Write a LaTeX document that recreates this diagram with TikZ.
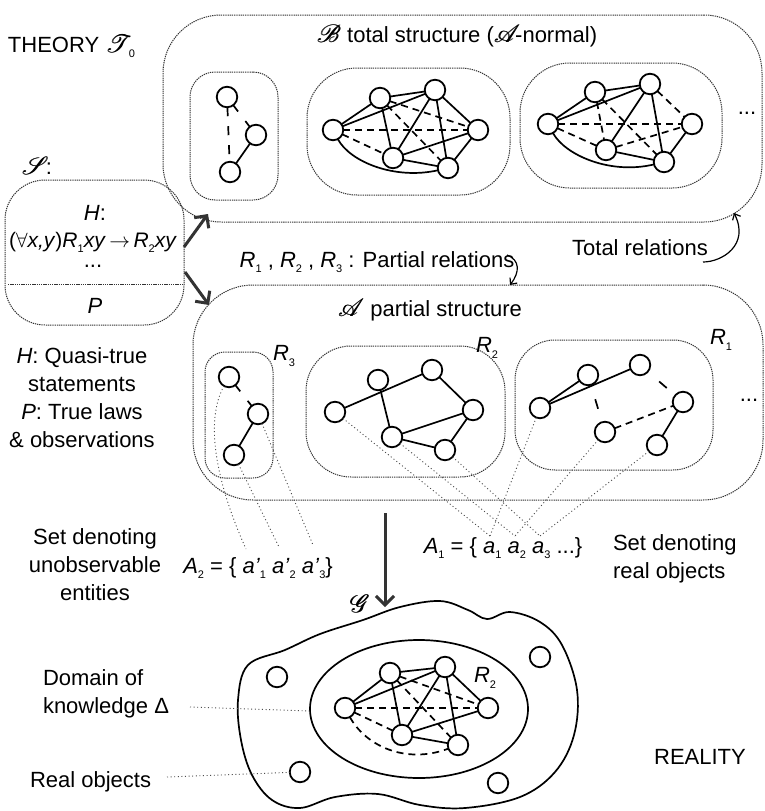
\documentclass[tikz,border=0pt]{standalone}
\usepackage{fontspec}
\setmainfont{Liberation Sans}
\usepackage{mathrsfs}
\usetikzlibrary{arrows.meta}
\newcommand\fs{\fontsize{22}{28}\selectfont}
\newcommand\sbs[1]{\raisebox{-0.45ex}{\fontsize{11}{11}\selectfont #1}}
\newcommand\scr[1]{{\fontsize{25}{28}\selectfont\rlap{$\mathscr{#1}$}\kern0.6pt$\mathscr{#1}$}}
\begin{document}
\begin{tikzpicture}[x=1pt,y=-1pt,
 every node/.style={font=\fs,inner sep=0pt,outer sep=0pt},
 vert/.style={circle,draw,line width=1.8pt,minimum size=20.5},
 sedge/.style={line width=1.7pt},
 dedge/.style={line width=1.7pt,dash pattern=on 7pt off 5pt},
 gedge/.style={line width=1.7pt,dash pattern=on 8pt off 12pt},
 mdash/.style={line width=1.7pt,dash pattern=on 0pt off 15pt on 10pt off 60pt},
 vdash/.style={line width=1.7pt,dash pattern=on 9pt off 10pt},
 dotbox/.style={draw=black!80,line width=1pt,dash pattern=on 1.3pt off 0.9pt},
 fdot/.style={draw=black!70,line width=0.9pt,dash pattern=on 1pt off 2.6pt},
 bigarrow/.style={draw=black!80,line width=3pt,-{Straight Barb[length=9pt,width=18pt]}},
 curly/.style={line width=1.2pt,-{Straight Barb[length=5pt,width=9pt]}},
 ]
\useasboundingbox (0,0) rectangle (764,811);
\fill[white] (0,0) rectangle (764,811);

% ---------- boxes ----------
\node[dotbox,rounded corners=58,minimum width=599,minimum height=207] (Bbox) at (462.5,118.5) {};
\node[dotbox,rounded corners=25,minimum width=88,minimum height=128] (tb1) at (234,136) {};
\node[dotbox,rounded corners=50,minimum width=203,minimum height=127] (tb2) at (408.5,131.5) {};
\node[dotbox,rounded corners=50,minimum width=202,minimum height=125] (tb3) at (621,125.5) {};

\node[dotbox,rounded corners=40,minimum width=179,minimum height=145] (Sbox) at (94.5,252.5) {};
\coordinate (sl1) at (8,284);
\coordinate (sl2) at (184,284);
\draw[dotbox] (sl1) -- (sl2);

\node[dotbox,rounded corners=60,minimum width=570,minimum height=215] (Abox) at (478,392.5) {};
\node[dotbox,rounded corners=20,minimum width=68,minimum height=126] (pb3) at (239,415) {};
\node[dotbox,rounded corners=45,minimum width=199,minimum height=131] (pb2) at (405.5,411.5) {};
\node[dotbox,rounded corners=40,minimum width=198,minimum height=130] (pb1) at (614,405) {};

% ---------- texts ----------
\node[anchor=west] (theory) at (8,46) {THEORY \scr{T}\kern-3pt\sbs{0}};
\node (btitle) at (457,36) {\scr{B} total structure (\scr{A}\kern-5pt-normal)};
\node (stitle) at (37,166) {\scr{S}\kern-3pt:};
\node (sH) at (95,213) {\textit{H}:};
\node[font=\fontsize{21}{26}\selectfont] (sform) at (93,242) {($\forall$\textit{x,y})\textit{R}\sbs{1}\textit{xy}\,$\rightarrow$\,\textit{R}\sbs{2}\textit{xy}};
\node (sdots) at (93,266) {...};
\node (sP) at (95,306) {\textit{P}};
\node[align=center] (hp) at (82,398) {\textit{H}: Quasi-true\\statements\\\textit{P}: True laws\\\& observations};
\node (trel) at (640,248) {Total relations};
\node (prel) at (377,262) {\textit{R}\sbs{1} , \textit{R}\sbs{2} , \textit{R}\sbs{3} : Partial relations};
\node (atitle) at (430,310) {\scr{A} partial structure};
\node (lr3) at (284,356) {\textit{R}\sbs{3}};
\node (lr2) at (487,348) {\textit{R}\sbs{2}};
\node (lr1) at (721,340) {\textit{R}\sbs{1}};
\node (tdots) at (747,113) {...};
\node (pdots) at (749,400) {...};
\node[align=center] (unobs) at (95,565) {Set denoting\\unobservable\\entities};
\node (A2) at (258,568) {\textit{A}\sbs{2} = \{ \textit{a'}\sbs{1} \textit{a'}\sbs{2} \textit{a'}\sbs{3}\}};
\node (A1) at (503,548) {\textit{A}\sbs{1} = \{ \textit{a}\sbs{1} \textit{a}\sbs{2} \textit{a}\sbs{3} ...\}};
\node[align=left,anchor=west] (realobj) at (613,559) {Set denoting\\real objects};
\node (glab) at (360,604) {\scr{G}};
\node[align=left,anchor=west] (dom) at (43,694) {Domain of\\knowledge Δ};
\node[anchor=west] (robj) at (30,782) {Real objects};
\node (reality) at (700,757) {REALITY};
\node (rr2) at (485,678) {\textit{R}\sbs{2}};

% ---------- arrows ----------
\coordinate (ua1) at (184,247); \coordinate (ua2) at (208,214);
\coordinate (dn1) at (185,272); \coordinate (dn2) at (209,305);
\draw[bigarrow] (ua1) -- (ua2);
\draw[bigarrow] (dn1) -- (dn2);
\coordinate (da1) at (385,513); \coordinate (da2) at (385,607);
\draw[bigarrow] (da1) -- (da2);
\coordinate (pc1) at (507,255); \coordinate (pc2) at (510,285);
\draw[curly] (pc1) .. controls (520,260) and (520,272) .. (pc2);
\coordinate (tc1) at (703,262); \coordinate (tc2) at (734,213);
\draw[curly] (tc1) .. controls (722,262) and (750,245) .. (tc2);

% ---------- top box 1 ----------
\node[vert] (t1a) at (227,97) {};
\node[vert] (t1b) at (256,135) {};
\node[vert] (t1c) at (230,172) {};
\draw[gedge] (t1a) -- (t1b);
\draw[vdash] (t1a) -- (t1c);
\draw[sedge] (t1b) -- (t1c);

% ---------- top box 2 ----------
\node[vert] (t2a) at (333,130) {};
\node[vert] (t2b) at (380,98) {};
\node[vert] (t2c) at (435,90) {};
\node[vert] (t2d) at (478,130) {};
\node[vert] (t2e) at (393,158) {};
\node[vert] (t2f) at (448,168) {};
\draw[sedge] (t2a) -- (t2b);
\draw[sedge] (t2b) -- (t2c);
\draw[sedge] (t2a) -- (t2c);
\draw[sedge] (t2b) -- (t2e);
\draw[sedge] (t2c) -- (t2e);
\draw[sedge] (t2c) -- (t2f);
\draw[sedge] (t2c) -- (t2d);
\draw[sedge] (t2e) -- (t2d);
\draw[sedge] (t2e) -- (t2f);
\draw[sedge] (t2d) -- (t2f);
\draw[sedge] (t2a) .. controls (350,162) and (395,180) .. (t2f);
\draw[dedge] (t2a) -- (t2d);
\draw[dedge] (t2a) -- (t2e);
\draw[dedge] (t2b) -- (t2d);
\draw[dedge] (t2b) -- (t2f);

% ---------- top box 3 ----------
\node[vert] (t3a) at (548,124) {};
\node[vert] (t3b) at (595,92) {};
\node[vert] (t3c) at (650,84) {};
\node[vert] (t3d) at (692,124) {};
\node[vert] (t3e) at (606,150) {};
\node[vert] (t3f) at (664,162) {};
\draw[sedge] (t3a) -- (t3b);
\draw[sedge] (t3b) -- (t3c);
\draw[sedge] (t3a) -- (t3c);
\draw[sedge] (t3c) -- (t3e);
\draw[sedge] (t3c) -- (t3f);
\draw[sedge] (t3e) -- (t3f);
\draw[sedge] (t3d) -- (t3f);
\draw[sedge] (t3a) .. controls (565,155) and (610,175) .. (t3f);
\draw[dedge] (t3a) -- (t3d);
\draw[dedge] (t3a) -- (t3e);
\draw[dedge] (t3e) -- (t3d);
\draw[dedge] (t3c) -- (t3d);
\draw[dedge] (t3b) -- (t3e);
\draw[dedge] (t3b) -- (t3f);

% ---------- partial R3 ----------
\node[vert] (p3a) at (229,377) {};
\node[vert] (p3b) at (258,414) {};
\node[vert] (p3c) at (234,455) {};
\draw[gedge] (p3a) -- (p3b);
\draw[sedge] (p3b) -- (p3c);

% ---------- partial R2 ----------
\node[vert] (p2a) at (335,412) {};
\node[vert] (p2b) at (378,380) {};
\node[vert] (p2c) at (432,370) {};
\node[vert] (p2d) at (473,410) {};
\node[vert] (p2e) at (392,437) {};
\node[vert] (p2f) at (445,450) {};
\draw[sedge] (p2a) -- (p2c);
\draw[sedge] (p2b) -- (p2e);
\draw[sedge] (p2c) -- (p2d);
\draw[sedge] (p2e) -- (p2d);
\draw[sedge] (p2e) -- (p2f);
\draw[sedge] (p2f) -- (p2d);

% ---------- partial R1 ----------
\node[vert] (p1a) at (540,408) {};
\node[vert] (p1b) at (588,375) {};
\node[vert] (p1c) at (640,365) {};
\node[vert] (p1d) at (683,402) {};
\node[vert] (p1e) at (605,432) {};
\node[vert] (p1f) at (657,445) {};
\draw[sedge] (p1a) -- (p1b);
\draw[sedge] (p1a) -- (p1c);
\draw[sedge] (p1d) -- (p1f);
\draw[mdash] (p1b) -- (p1e);
\draw[mdash] (p1c) -- (p1d);
\draw[dedge] (p1e) -- (p1d);

% ---------- dotted denotation lines ----------
\coordinate (ap1) at (246,549); \coordinate (ap2) at (279,547); \coordinate (ap3) at (313,545);
\draw[fdot] (p3a) .. controls (205,420) and (215,480) .. (ap1);
\draw[fdot] (p3c) -- (ap2);
\draw[fdot] (p3b) -- (ap3);
\coordinate (aa1) at (490,536); \coordinate (aa2) at (515,536); \coordinate (aa3) at (540,536);
\draw[fdot] (p2a) -- (aa1);
\draw[fdot] (p2e) -- (aa2);
\draw[fdot] (p2f) -- (aa3);
\draw[fdot] (p1a) -- (aa1);
\draw[fdot] (p1e) -- (aa2);
\draw[fdot] (p1f) -- (aa3);

% ---------- reality ----------
\draw[line width=1.7pt] plot[smooth cycle,tension=0.6] coordinates {
 (238,700) (248,665) (285,650) (320,634) (363,620) (400,607) (440,601) (468,610)
 (487,619) (510,612) (540,622) (562,645) (577,690) (574,735) (555,772) (520,797)
 (465,808) (420,805) (378,794) (335,797) (300,808) (272,800) (252,775) (241,740)};
\draw[line width=1.7pt] (419,709) ellipse [x radius=109, y radius=69];

\node[vert] (ra) at (345,708) {};
\node[vert] (rb) at (390,673) {};
\node[vert] (rc) at (445,667) {};
\node[vert] (rd) at (488,708) {};
\node[vert] (re) at (402,735) {};
\node[vert] (rf) at (458,745) {};
\draw[sedge] (ra) -- (rb);
\draw[sedge] (rb) -- (rc);
\draw[sedge] (ra) -- (rc);
\draw[sedge] (rb) -- (re);
\draw[sedge] (rc) -- (re);
\draw[sedge] (rc) -- (rf);
\draw[sedge] (rc) -- (rd);
\draw[sedge] (re) -- (rd);
\draw[sedge] (re) -- (rf);
\draw[dedge] (ra) -- (rd);
\draw[dedge] (ra) -- (re);
\draw[dedge] (ra) .. controls (365,745) and (405,765) .. (rf);
\draw[dedge] (rb) -- (rd);
\draw[dedge] (rb) -- (rf);

\node[vert] (o1) at (540,657) {};
\node[vert] (o2) at (498,783) {};
\node[vert] (o3) at (277,677) {};
\node[vert] (o4) at (300,772) {};

\coordinate (dk1) at (190,707); \coordinate (dk2) at (310,711);
\draw[fdot] (dk1) -- (dk2);
\coordinate (ro1) at (167,777);
\draw[fdot] (ro1) -- (o4);
\end{tikzpicture}
\end{document}
